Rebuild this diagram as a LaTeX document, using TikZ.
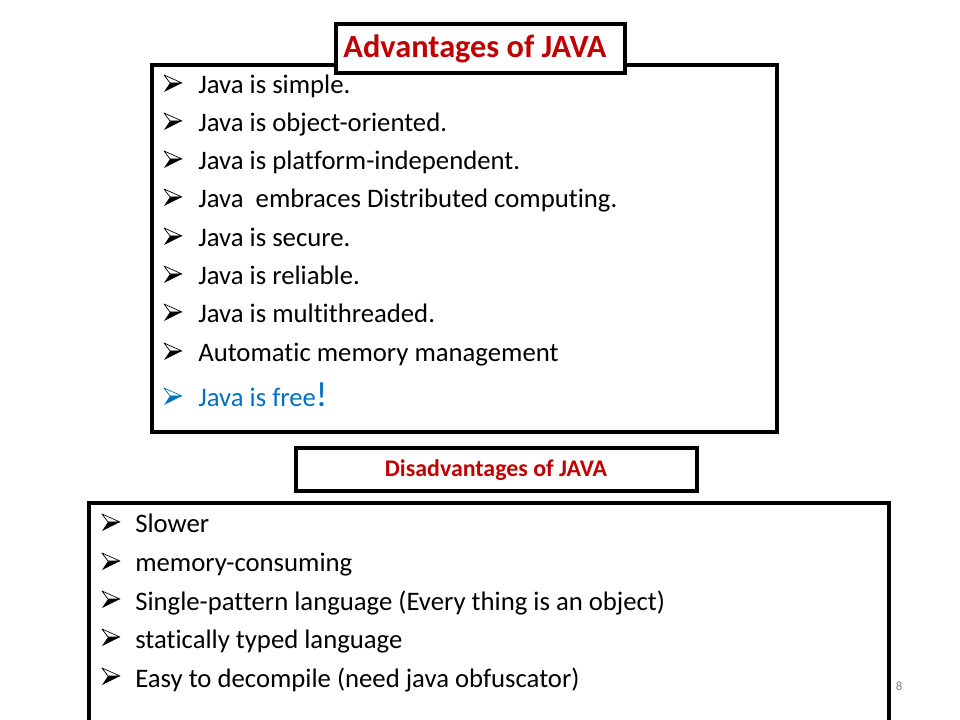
\documentclass[tikz,border=0pt]{standalone}
\usepackage{fontspec}
\setmainfont{Carlito}[Ligatures=NoCommon]
\definecolor{javared}{RGB}{192,0,0}
\definecolor{javablue}{RGB}{0,112,192}
\tikzset{
  frame/.style={draw, line width=2.2pt},
  item/.style={anchor=base west, inner sep=0pt, font=\fontsize{19}{22}\selectfont},
  arrowbullet/.pic={
    \draw[line width=0.5pt, line join=round, fill=white] (1,-19) -- (19,-11) -- (7,-11) -- cycle;
    \fill (7,-11) -- (19,-11) -- (1,-2) -- cycle;
  },
}

\begin{document}
\begin{tikzpicture}[x=0.025cm, y=-0.025cm]
  \useasboundingbox (0,0) rectangle (960,720);
  % advantages
  \draw[frame] (152,65) rectangle (777,432);
  \draw[frame, fill=white] (336,24) rectangle (625,73);
  \node[text=javared, font=\fontsize{23}{26}\selectfont\bfseries] (advtitle) at (475,49) {Advantages of JAVA};
  \foreach \t/\y [count=\i] in {
    Java is simple./94, Java is object-oriented./132,
    Java is platform-independent./170,
    Java\ \ embraces Distributed computing./208,
    Java is secure./247, Java is reliable./285,
    Java is multithreaded./323, Automatic memory management/362
  }{
    \pic (advb\i) at (163,\y) {arrowbullet};
    \node[item] (adv\i) at (198,\y) {\t};
  }
  \pic[color=javablue] (advb9) at (163,407) {arrowbullet};
  \node[item, text=javablue] (adv9) at (198,407) {Java is free{\fontsize{25}{28}\selectfont!}};
  % disadvantages
  \draw[frame] (296,448) rectangle (697,491);
  \node[text=javared, font=\fontsize{17}{20}\selectfont\bfseries] (distitle) at (496,470) {Disadvantages of JAVA};
  \draw[frame] (89,725) -- (89,503) -- (889,503) -- (889,725);
  \foreach \t/\y [count=\i] in {
    Slower/533, memory-consuming/572,
    Single-pattern language (Every thing is an object)/610,
    statically typed language/648,
    Easy to decompile (need java obfuscator)/687
  }{
    \pic (disb\i) at (101,\y) {arrowbullet};
    \node[item] (dis\i) at (135,\y) {\t};
  }
  \node[text=gray, font=\fontsize{9}{10}\selectfont] (pagenum) at (899,686) {8};
\end{tikzpicture}
\end{document}
